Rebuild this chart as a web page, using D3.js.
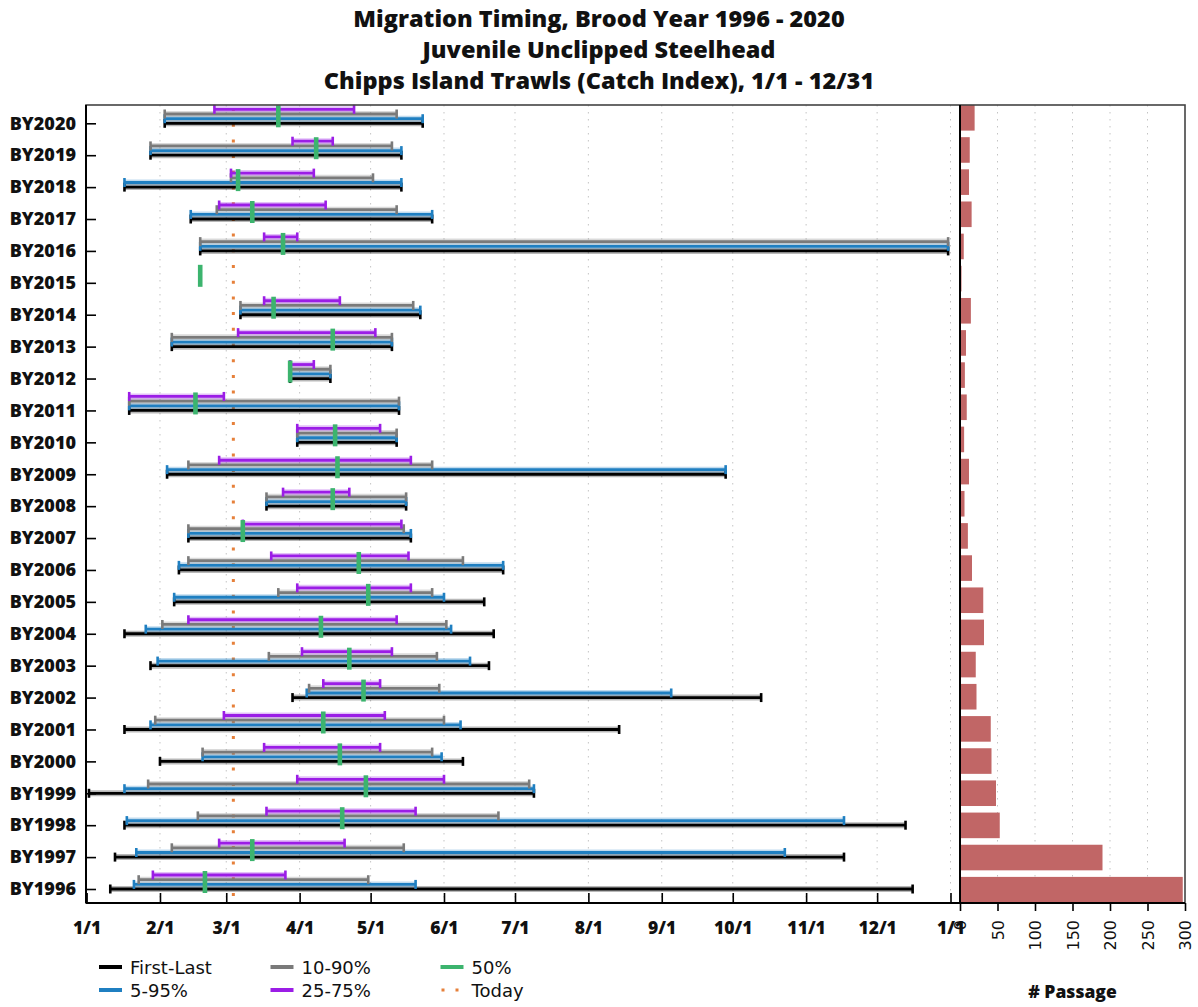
<!DOCTYPE html>
<html><head><meta charset="utf-8">
<script src="https://cdn.jsdelivr.net/npm/d3@7"></script>
<style>body{margin:0;background:#fff}</style>
</head><body>
<svg id="chart" width="1198" height="1007"></svg>
<script>
// ---- DATA (day offsets from Jan 1; null = no value) ----
const broodYears = [2020,2019,2018,2017,2016,2015,2014,2013,2012,2011,2010,2009,2008,2007,2006,2005,2004,2003,2002,2001,2000,1999,1998,1997,1996];
const firstDay = [33,27,16,44,48,null,65,36,86,18,89,34,76,43,39,37,16,27,87,16,31,1,16,12,10];
const p5Day    = [33,27,16,44,48,null,65,36,86,18,89,34,76,43,39,37,25,30,93,27,49,16,17,21,20];
const p10Day   = [33,27,61,55,48,null,65,36,86,18,89,43,76,43,43,81,32,77,94,29,49,26,47,36,22];
const p25Day   = [54,87,61,56,75,null,75,64,86,18,89,56,83,66,78,89,43,91,100,58,75,89,76,56,28];
const p50Day   = [81,97,64,70,83,48,79,104,86,46,105,106,104,66,115,119,99,111,117,100,107,118,108,70,50];
const p75Day   = [113,104,96,101,89,null,107,122,96,58,124,137,111,133,136,137,131,129,124,126,124,151,139,109,84];
const p90Day   = [131,129,121,131,364,null,138,129,103,132,131,146,135,134,159,146,152,148,149,151,146,187,174,134,119];
const p95Day   = [142,133,133,146,364,null,141,129,103,132,131,270,135,137,176,151,154,162,247,158,150,189,320,295,139];
const lastDay  = [142,133,133,146,364,null,141,129,103,132,131,270,135,137,176,168,172,170,285,225,159,189,346,320,349];
const passage  = [19.5,13,12,15.5,5,2,14.5,8,6.5,9,5.5,12,6,10.5,16,31,32,21,22,41,42,48,53,190,297];
const todayDay = 62;
const monthDays   = [0,31,59,90,120,151,181,212,243,273,304,334,365];
const monthLabels = ["1/1","2/1","3/1","4/1","5/1","6/1","7/1","8/1","9/1","10/1","11/1","12/1","1/1"];
const passageTicks = [0,50,100,150,200,250,300];
const titleLines = ["Migration Timing, Brood Year 1996 - 2020","Juvenile Unclipped Steelhead","Chipps Island Trawls (Catch Index), 1/1 - 12/31"];

// ---- LAYOUT ----
const L = 86, M = 960, R = 1185, T = 105, B = 903;
const COL = {black:"#000000", blue:"#1f7fc1", gray:"#7a7a7a", purple:"#9b1de6", green:"#3cb46e", orange:"#e6803a", bar:"#c16666"};
const BOLD = "'Open Sans', 'Noto Sans', sans-serif";
const BW = 800;
const REG = "'DejaVu Sans', sans-serif";

const svg = d3.select("#chart");
const x = d3.scaleLinear().domain([0,365]).range([86.6,950.5]);
const y = d3.scaleLinear().domain([1996,2020]).range([889,123.3]);
const yb = d3.scaleLinear().domain([1996,2020]).range([889.7,117.8]);
const xp = d3.scaleLinear().domain([0,300]).range([M,R]);

// gridlines
const grid = svg.append("g");
grid.selectAll("line.gm").data(monthDays.slice(1)).join("line")
  .attr("x1",d=>x(d)).attr("x2",d=>x(d)).attr("y1",T).attr("y2",B)
  .attr("stroke","#c4c4c4").attr("stroke-width",1).attr("stroke-dasharray","1.5,5.5");
grid.selectAll("line.gp").data(passageTicks.slice(1,-1)).join("line")
  .attr("x1",d=>xp(d)).attr("x2",d=>xp(d)).attr("y1",T).attr("y2",B)
  .attr("stroke","#c4c4c4").attr("stroke-width",1).attr("stroke-dasharray","1.5,5.5");

// today line
svg.append("line").attr("x1",x(todayDay)).attr("x2",x(todayDay)).attr("y1",T+3).attr("y2",B)
  .attr("stroke",COL.orange).attr("stroke-width",3).attr("stroke-dasharray","3,12.7");

// interval series
const series = [
  {lo:firstDay, hi:lastDay, color:COL.black, off:0},
  {lo:p5Day, hi:p95Day, color:COL.blue, off:-4.6},
  {lo:p10Day, hi:p90Day, color:COL.gray, off:-9.3},
  {lo:p25Day, hi:p75Day, color:COL.purple, off:-14}
];
const gI = svg.append("g");
series.forEach(s => {
  const rows = broodYears.map((by,i)=>({by, lo:s.lo[i], hi:s.hi[i]})).filter(r=>r.lo!=null);
  const g = gI.append("g");
  g.selectAll("line.h").data(rows).join("line")
    .attr("x1",d=>x(d.lo)).attr("x2",d=>x(d.hi))
    .attr("y1",d=>y(d.by)+s.off).attr("y2",d=>y(d.by)+s.off)
    .attr("stroke",s.color).attr("stroke-opacity",0.28).attr("stroke-width",6);
  g.selectAll("line.m").data(rows).join("line")
    .attr("x1",d=>x(d.lo)).attr("x2",d=>x(d.hi))
    .attr("y1",d=>y(d.by)+s.off).attr("y2",d=>y(d.by)+s.off)
    .attr("stroke",s.color).attr("stroke-width",2.8);
  ["lo","hi"].forEach(k=>{
    g.selectAll("line.c"+k).data(rows).join("line")
      .attr("x1",d=>x(d[k])).attr("x2",d=>x(d[k]))
      .attr("y1",d=>y(d.by)+s.off-4.5).attr("y2",d=>y(d.by)+s.off+4.5)
      .attr("stroke",s.color).attr("stroke-width",2.6);
  });
});
// median marks
const medRows = broodYears.map((by,i)=>({by, v:p50Day[i]})).filter(r=>r.v!=null);
gI.selectAll("rect.med").data(medRows).join("rect")
  .attr("x",d=>x(d.v)-2.3).attr("width",4.6)
  .attr("y",d=>y(d.by)-18).attr("height",22)
  .attr("fill",COL.green);

// passage bars
svg.append("g").selectAll("rect").data(broodYears.map((by,i)=>({by,v:passage[i]}))).join("rect")
  .attr("x",xp(0)).attr("width",d=>xp(d.v)-xp(0))
  .attr("y",d=>yb(d.by)-12.8).attr("height",25.6)
  .attr("fill",COL.bar);

// frames
svg.append("rect").attr("x",L).attr("y",T).attr("width",R-L).attr("height",B-T)
  .attr("fill","none").attr("stroke","#444").attr("stroke-width",1.6);
svg.append("line").attr("x1",L).attr("x2",L).attr("y1",T).attr("y2",B).attr("stroke","#000").attr("stroke-width",2);
svg.append("line").attr("x1",M).attr("x2",M).attr("y1",T).attr("y2",B).attr("stroke","#000").attr("stroke-width",2);
svg.append("line").attr("x1",L).attr("x2",R).attr("y1",B).attr("y2",B).attr("stroke","#000").attr("stroke-width",2);

// y axis
const yAxis = svg.append("g").attr("transform",`translate(${L},0)`)
  .call(d3.axisLeft(y).tickValues(broodYears).tickFormat(d=>"BY"+d).tickSize(-10).tickPadding(10));
yAxis.select(".domain").remove();
yAxis.selectAll("line").attr("stroke","#000").attr("stroke-width",1.6);
yAxis.selectAll("text").attr("font-family",BOLD).attr("font-weight",BW).attr("font-size",18).attr("fill","#111");

// x axis (dates)
const xAxis = svg.append("g").attr("transform",`translate(0,${B})`)
  .call(d3.axisBottom(x).tickValues(monthDays).tickFormat((d,i)=>monthLabels[i]).tickSize(-10).tickPadding(19));
xAxis.select(".domain").remove();
xAxis.selectAll("line").attr("stroke","#000").attr("stroke-width",1.6);
xAxis.selectAll("text").attr("font-family",BOLD).attr("font-weight",BW).attr("font-size",17.5).attr("fill","#111");

// passage axis
const pAxis = svg.append("g").attr("transform",`translate(0,${B})`)
  .call(d3.axisBottom(xp).tickValues(passageTicks).tickFormat(d3.format("d")).tickSize(8));
pAxis.select(".domain").remove();
pAxis.selectAll("line").attr("stroke","#000").attr("stroke-width",1.6);
pAxis.selectAll("text")
  .attr("transform","translate(0,17) rotate(-90)").attr("x",0).attr("y",0).attr("dy","0.36em")
  .attr("text-anchor","end").attr("font-family",REG).attr("font-size",16).attr("fill","#111");

svg.append("text").attr("x",(M+R)/2).attr("y",998).attr("text-anchor","middle")
  .attr("font-family",BOLD).attr("font-weight",BW).attr("font-size",17.5).attr("fill","#111").text("# Passage");

// title
svg.append("g").selectAll("text").data(titleLines).join("text")
  .attr("x",599).attr("y",(d,i)=>27+i*31.2).attr("text-anchor","middle")
  .attr("font-family",BOLD).attr("font-weight",BW).attr("font-size",23.5).attr("fill","#111").text(d=>d);

// legend
const legendItems = [
  {label:"First-Last", color:COL.black, col:0, row:0},
  {label:"10-90%", color:COL.gray, col:1, row:0},
  {label:"50%", color:COL.green, col:2, row:0},
  {label:"5-95%", color:COL.blue, col:0, row:1},
  {label:"25-75%", color:COL.purple, col:1, row:1},
  {label:"Today", color:COL.orange, col:2, row:1, dotted:true}
];
const colX = [99,270.5,440.5], rowY = [967,990];
const lg = svg.append("g").selectAll("g").data(legendItems).join("g")
  .attr("transform",d=>`translate(${colX[d.col]},${rowY[d.row]})`);
lg.filter(d=>!d.dotted).append("line").attr("x1",0).attr("x2",23).attr("y1",0).attr("y2",0)
  .attr("stroke",d=>d.color).attr("stroke-width",4);
lg.filter(d=>d.dotted).append("line").attr("x1",1).attr("x2",23).attr("y1",0).attr("y2",0)
  .attr("stroke",d=>d.color).attr("stroke-width",3).attr("stroke-dasharray","3,11");
lg.append("text").attr("x",31).attr("y",6.5).attr("font-family",REG).attr("font-size",18).attr("fill","#111").text(d=>d.label);
</script>
</body></html>
